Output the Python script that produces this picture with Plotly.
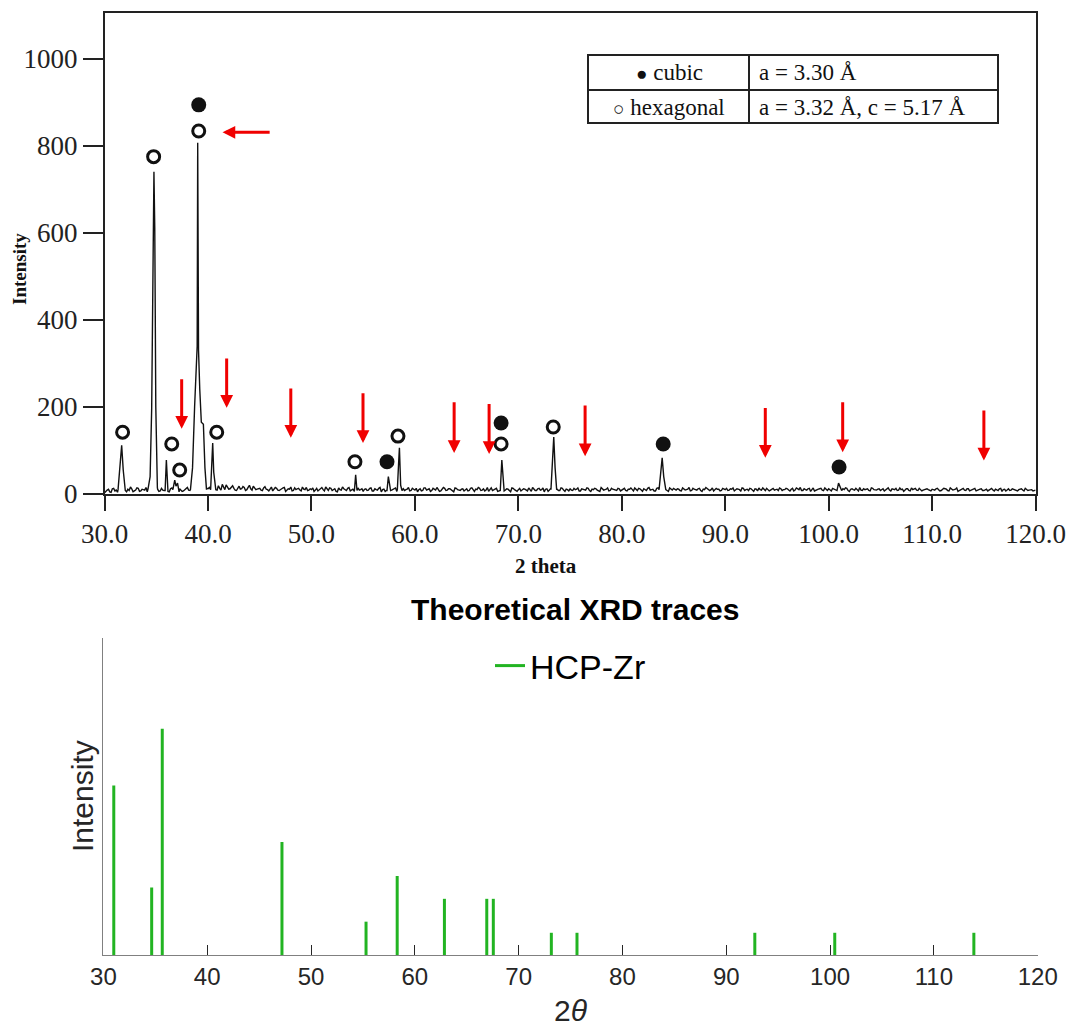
import plotly.graph_objects as go

# ---------------- Experimental XRD pattern (top panel) ----------------
noise_start = 30.0
noise_step = 0.25
# noise read at 30.00, 30.25, 30.50 ...
baseline_noise = [
    3, 9, 5, 12, 7, 4, 14, 8, 6, 11, 16, 5, 9, 13, 7, 10, 15, 6, 12, 8,
    9, 6, 13, 8, 11, 5, 14, 7, 10, 12, 6, 9, 15, 8, 11, 7, 13, 5, 10, 9,
    12, 8, 16, 10, 19, 9, 14, 21, 11, 17, 13, 8, 18, 12, 15, 10, 20, 9, 14, 11,
    13, 8, 17, 10, 12, 7, 15, 9, 11, 14, 6, 12, 16, 8, 10, 13, 7, 11, 15, 9,
    10, 6, 13, 9, 15, 7, 11, 14, 8, 12, 5, 10, 16, 9, 13, 7, 11, 8, 14, 10,
    6, 12, 9, 14, 7, 10, 13, 5, 11, 8, 15, 9, 12, 6, 10, 14, 8, 11, 7, 13,
    9, 5, 12, 8, 14, 10, 6, 13, 9, 11, 7, 15, 8, 12, 10, 5, 13, 9, 11, 7,
    12, 8, 14, 6, 10, 13, 9, 7, 15, 11, 8, 12, 6, 10, 14, 9, 11, 5, 13, 8,
    10, 7, 12, 9, 14, 6, 11, 8, 13, 10, 5, 12, 9, 15, 7, 11, 8, 13, 6, 10,
    12, 8, 10, 14, 7, 11, 9, 13, 6, 10, 12, 8, 15, 9, 11, 7, 13, 10, 8, 12,
    9, 13, 7, 11, 10, 14, 8, 12, 6, 10, 13, 9, 11, 7, 14, 8, 12, 10, 6, 11,
    13, 9, 11, 7, 12, 10, 15, 8, 11, 9, 13, 6, 10, 12, 8, 14, 9, 11, 7, 13,
    10, 8, 12, 14, 9, 11, 7, 13, 10, 8, 12, 6, 11, 14, 9, 10, 13, 7, 12, 9,
    11, 14, 8, 10, 12, 7, 13, 9, 11, 15, 8, 10, 12, 6, 14, 9, 11, 13, 8, 10,
    12, 7, 11, 9, 14, 8, 10, 13, 6, 12, 9, 11, 15, 8, 10, 12, 7, 13, 9, 11,
    8, 12, 10, 14, 7, 11, 13, 9, 10, 6, 12, 8, 14, 11, 9, 13, 7, 10, 12, 8,
    11, 9, 13, 7, 10, 12, 8, 14, 9, 11, 6, 10, 13, 8, 12, 9, 11, 7, 10, 12,
    8, 11, 9, 13, 7, 10, 12, 6, 11, 9, 8, 12, 10, 7, 11, 9, 13, 8, 10, 7, 9,
]
# noise read at 30.125, 30.375, 30.625 ...
baseline_noise_mid = [
    7, 11, 4, 13, 9, 6, 10, 15, 5, 8, 12, 7, 14, 6, 11, 9, 5, 13, 8, 10,
    11, 7, 9, 14, 6, 12, 8, 5, 13, 10, 7, 11, 9, 14, 6, 8, 12, 10, 7, 13,
    15, 11, 18, 9, 13, 22, 10, 16, 12, 19, 9, 14, 11, 17, 8, 15, 12, 18, 10, 13,
    9, 14, 11, 7, 16, 10, 13, 8, 12, 15, 9, 11, 7, 14, 12, 9, 16, 10, 8, 12,
    14, 9, 7, 12, 10, 16, 8, 13, 11, 6, 14, 9, 12, 8, 15, 10, 7, 13, 9, 12,
    11, 8, 13, 7, 12, 9, 15, 10, 6, 13, 8, 11, 14, 9, 7, 12, 10, 15, 8, 11,
    13, 10, 7, 14, 9, 12, 8, 11, 15, 6, 10, 13, 9, 12, 7, 14, 10, 8, 12, 9,
    7, 13, 10, 11, 15, 8, 12, 9, 6, 14, 10, 13, 8, 11, 7, 12, 9, 14, 10, 6,
    13, 9, 11, 7, 10, 15, 8, 12, 9, 14, 11, 6, 13, 10, 12, 8, 14, 9, 11, 7,
    9, 13, 11, 7, 12, 10, 14, 8, 11, 13, 9, 6, 12, 10, 14, 8, 11, 9, 13, 7,
    12, 8, 11, 14, 7, 10, 13, 9, 12, 8, 15, 11, 7, 13, 9, 10, 12, 8, 14, 9,
    10, 12, 8, 14, 9, 11, 7, 13, 10, 12, 8, 11, 15, 9, 10, 7, 13, 11, 8, 12,
    13, 9, 11, 7, 12, 10, 14, 8, 11, 13, 9, 12, 7, 10, 14, 8, 11, 9, 13, 10,
    8, 12, 10, 13, 9, 11, 7, 14, 10, 8, 12, 9, 13, 11, 7, 10, 12, 9, 14, 8,
    10, 13, 9, 11, 7, 12, 14, 8, 11, 10, 13, 7, 9, 12, 11, 8, 14, 10, 9, 12,
    11, 7, 13, 9, 12, 10, 8, 14, 11, 9, 12, 7, 10, 13, 8, 11, 9, 12, 10, 7,
    9, 12, 10, 8, 13, 11, 7, 12, 10, 14, 8, 11, 9, 12, 7, 10, 13, 9, 11, 8,
    10, 7, 12, 9, 11, 8, 13, 10, 7, 12, 9, 11, 8, 10, 12, 7, 11, 9, 10, 8,
]

peak_x = [
    [31.3, 31.5, 31.65, 31.8, 32.0],
    [34.2, 34.4, 34.55, 34.68, 34.77, 34.85, 34.95, 35.1],
    [35.85, 35.97, 36.1],
    [36.6, 36.78, 36.9, 37.05, 37.2],
    [38.3, 38.5, 38.7, 38.85, 38.95, 39.0, 39.08, 39.2, 39.35, 39.55, 39.7, 39.85],
    [40.25, 40.35, 40.45, 40.55, 40.7],
    [54.15, 54.27, 54.4],
    [57.3, 57.43, 57.55, 57.65],
    [58.3, 58.42, 58.5, 58.62, 58.75],
    [68.25, 68.4, 68.55],
    [73.15, 73.3, 73.42, 73.55, 73.7],
    [83.6, 83.8, 83.9, 84.05, 84.2],
    [100.8, 100.95, 101.1, 101.25],
]
peak_y = [
    [10, 60, 112, 55, 8],
    [12, 40, 195, 620, 740, 610, 200, 15],
    [8, 78, 10],
    [10, 32, 18, 25, 5],
    [10, 60, 200, 270, 340, 807, 330, 240, 165, 160, 60, 10],
    [10, 60, 117, 50, 15],
    [8, 44, 8],
    [8, 40, 20, 8],
    [10, 70, 106, 20, 8],
    [8, 78, 10],
    [10, 90, 131, 60, 10],
    [10, 60, 83, 40, 10],
    [8, 25, 18, 8],
]

hex_x = [31.74, 34.74, 36.49, 37.26, 39.1, 40.84, 54.2, 58.36, 68.33, 73.37]
hex_y = [142, 775, 115, 55, 834, 142, 74, 133, 115, 154]
cubic_x = [39.1, 57.3, 68.33, 84.0, 101.0]
cubic_y = [894, 74, 163, 115, 62]

down_arrow_x = [37.45, 41.8, 48.0, 54.98, 63.79, 67.17, 76.45, 93.87, 101.35, 115.0]
down_arrow_tail = [267, 315, 246, 235, 214, 210, 207, 201, 214, 195]
down_arrow_tip = [150, 198, 129, 117, 94, 92, 87, 83, 96, 77]
side_arrow_tail = (46.1, 831)
side_arrow_tip = (41.4, 831)

top_xticks = [30, 40, 50, 60, 70, 80, 90, 100, 110, 120]
top_yticks = [0, 200, 400, 600, 800, 1000]

# ---------------- Theoretical HCP-Zr sticks (bottom panel) ----------------
hcp_2theta = [31.0, 34.65, 35.67, 47.2, 55.3, 58.3, 62.85, 66.93, 67.56, 73.15, 75.62, 92.75, 100.45, 113.85]
hcp_intensity = [53.4, 21.3, 71.3, 35.6, 10.5, 24.9, 17.7, 17.7, 17.7, 7.0, 7.0, 7.0, 7.0, 7.0]
bottom_xticks = [30, 40, 50, 60, 70, 80, 90, 100, 110, 120]

# ---- assemble experimental trace ----
base_pts = [(noise_start + i * noise_step, v) for i, v in enumerate(baseline_noise)]
base_pts += [(noise_start + noise_step / 2 + i * noise_step, v)
             for i, v in enumerate(baseline_noise_mid)]
spans = [(min(p), max(p)) for p in peak_x]
pts = [(x, y) for x, y in base_pts if not any(a <= x <= b for a, b in spans)]
for px, py in zip(peak_x, peak_y):
    pts += list(zip(px, py))
pts.sort()
exp_x = [p[0] for p in pts]
exp_y = [p[1] for p in pts]

stick_x, stick_y = [], []
for x, h in zip(hcp_2theta, hcp_intensity):
    stick_x += [x, x, None]
    stick_y += [0, h, None]

W, H = 1072, 1028


def fx(p):
    return p / W


def fy(p):
    return 1 - p / H


SERIF = "Liberation Serif, Times New Roman, serif"
SANS = "Liberation Sans, Arial, sans-serif"

fig = go.Figure()
fig.add_trace(go.Scatter(x=exp_x, y=exp_y, mode="lines",
                         line=dict(color="#111111", width=1.4),
                         showlegend=False, xaxis="x", yaxis="y"))
fig.add_trace(go.Scatter(x=hex_x, y=hex_y, mode="markers",
                         marker=dict(symbol="circle-open", size=12, color="#111111",
                                     line=dict(width=3, color="#111111")),
                         showlegend=False, xaxis="x", yaxis="y"))
fig.add_trace(go.Scatter(x=cubic_x, y=cubic_y, mode="markers",
                         marker=dict(symbol="circle", size=15, color="#111111"),
                         showlegend=False, xaxis="x", yaxis="y"))
fig.add_trace(go.Scatter(x=stick_x, y=stick_y, mode="lines", name="HCP-Zr",
                         line=dict(color="#22b422", width=3),
                         showlegend=True, xaxis="x2", yaxis="y2"))

annotations = []
for x, t0, t1 in zip(down_arrow_x, down_arrow_tail, down_arrow_tip):
    annotations.append(dict(x=x, y=t1, ax=x, ay=t0, xref="x", yref="y",
                            axref="x", ayref="y", text="", showarrow=True,
                            arrowhead=2, arrowsize=0.85, arrowwidth=3,
                            arrowcolor="#f00000", standoff=0))
annotations.append(dict(x=side_arrow_tip[0], y=side_arrow_tip[1],
                        ax=side_arrow_tail[0], ay=side_arrow_tail[1],
                        xref="x", yref="y", axref="x", ayref="y", text="",
                        showarrow=True, arrowhead=2, arrowsize=0.85, arrowwidth=3,
                        arrowcolor="#f00000", standoff=0))


def label(text, px, py, size, family, color="#111", angle=0, xanchor="center"):
    return dict(text=text, x=fx(px), y=fy(py), xref="paper", yref="paper",
                xanchor=xanchor, yanchor="middle", textangle=angle,
                showarrow=False, font=dict(family=family, size=size, color=color))


annotations += [
    label("<b>Intensity</b>", 20, 269, 19, SERIF, angle=-90),
    label("<b>2 theta</b>", 546, 566, 21, SERIF),
    label("<b>Theoretical XRD traces</b>", 575, 609, 30, SANS, color="#000"),
    label("Intensity", 82, 796, 30, SANS, color="#262626", angle=-90),
    label("2<i>θ</i>", 571, 1010, 30, SANS, color="#262626"),
    # phase table
    label("<span style='font-size:19px'>●</span> cubic", 669, 73, 23, SERIF),
    label("<span style='font-size:19px'>○</span> hexagonal", 669, 108, 23, SERIF),
    label("a = 3.30 Å", 757, 73, 23, SERIF, xanchor="left"),
    label("a = 3.32 Å, c = 5.17 Å", 757, 108, 23, SERIF, xanchor="left"),
]

shapes = [
    dict(type="rect", xref="paper", yref="paper", x0=fx(588), x1=fx(998),
         y0=fy(123), y1=fy(55), line=dict(color="#222", width=2)),
    dict(type="line", xref="paper", yref="paper", x0=fx(588), x1=fx(998),
         y0=fy(90), y1=fy(90), line=dict(color="#222", width=2)),
    dict(type="line", xref="paper", yref="paper", x0=fx(749), x1=fx(749),
         y0=fy(123), y1=fy(55), line=dict(color="#222", width=2)),
]

fig.update_layout(
    width=W, height=H, autosize=False,
    margin=dict(l=0, r=0, t=0, b=0, pad=0, autoexpand=False),
    paper_bgcolor="white", plot_bgcolor="white",
    xaxis=dict(domain=[fx(104.6), fx(1035.6)], anchor="y", range=[30, 120],
               tickvals=top_xticks, tickformat=".1f", ticks="outside", ticklen=15,
               tickwidth=1.5, tickcolor="#222", showline=True, mirror=True,
               linecolor="#222", linewidth=1.5, showgrid=False, zeroline=False,
               automargin=False,
               tickfont=dict(family=SERIF, size=27, color="#222")),
    yaxis=dict(domain=[fy(494), fy(13)], anchor="x", range=[0, 1105],
               tickvals=top_yticks, ticks="outside", ticklen=20, tickwidth=1.5,
               tickcolor="#222", showline=True, mirror=True, linecolor="#222",
               linewidth=1.5, showgrid=False, zeroline=False, automargin=False,
               tickfont=dict(family=SERIF, size=27, color="#222")),
    xaxis2=dict(domain=[fx(103.4), fx(1037.7)], anchor="y2", range=[30, 120],
                tickvals=bottom_xticks, ticks="inside", ticklen=10, tickwidth=1,
                tickcolor="#262626", showline=True, linecolor="#808080", linewidth=1,
                showgrid=False, zeroline=False, automargin=False,
                tickfont=dict(family=SANS, size=24, color="#262626")),
    yaxis2=dict(domain=[fy(955), fy(637.6)], anchor="x2", range=[0, 100],
                showline=True, linecolor="#808080", linewidth=1, ticks="",
                showticklabels=False, showgrid=False, zeroline=False,
                automargin=False),
    legend=dict(x=fx(490), y=fy(666), xanchor="left", yanchor="middle",
                bgcolor="rgba(0,0,0,0)", borderwidth=0,
                font=dict(family=SANS, size=34, color="#000")),
    annotations=annotations,
    shapes=shapes,
)

fig.write_html("out.html")
